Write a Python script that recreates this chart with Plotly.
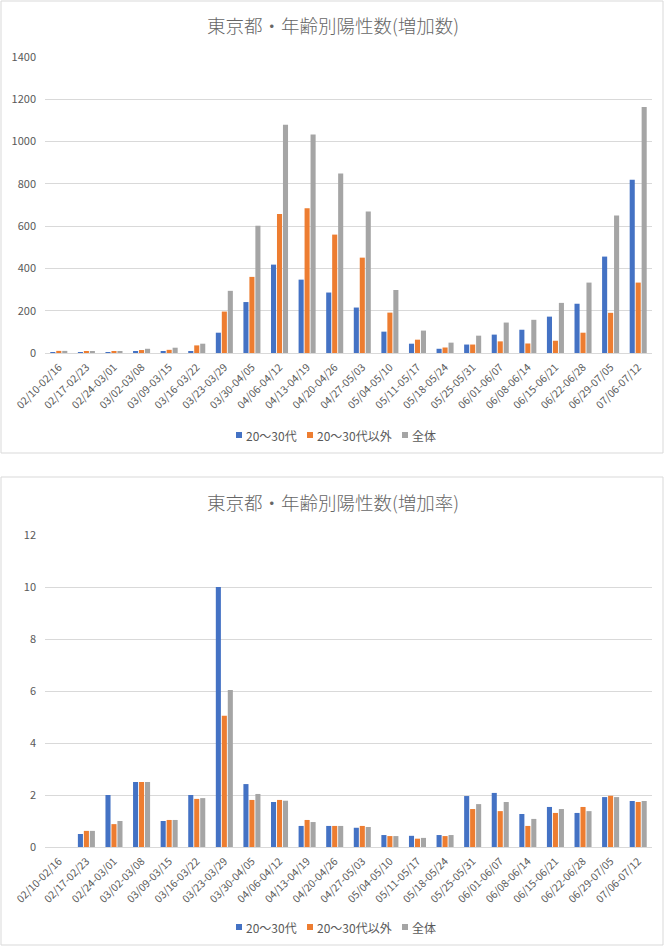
import plotly.graph_objects as go
from plotly.subplots import make_subplots

weeks = ["02/10-02/16", "02/17-02/23", "02/24-03/01", "03/02-03/08", "03/09-03/15",
         "03/16-03/22", "03/23-03/29", "03/30-04/05", "04/06-04/12", "04/13-04/19",
         "04/20-04/26", "04/27-05/03", "05/04-05/10", "05/11-05/17", "05/18-05/24",
         "05/25-05/31", "06/01-06/07", "06/08-06/14", "06/15-06/21", "06/22-06/28",
         "06/29-07/05", "07/06-07/12"]

series_names = ["20～30代", "20～30代以外", "全体"]
colors = ["#4472C4", "#ED7D31", "#A5A5A5"]

# 増加数 (weekly new positives)
count_2030 = [2, 1, 2, 5, 5, 5, 96, 241, 418, 347, 286, 215, 101, 44, 20, 40, 87, 110, 172, 233, 456, 820]
count_other = [10, 6, 5, 14, 15, 36, 196, 360, 658, 685, 560, 451, 191, 63, 26, 40, 55, 45, 58, 96, 190, 333]
count_all = [10, 6, 5, 20, 25, 44, 294, 602, 1080, 1033, 849, 669, 298, 106, 49, 82, 144, 157, 237, 333, 650, 1163]

# 増加率 (week-over-week ratio)
rate_2030 = [None, 0.5, 2.0, 2.5, 1.0, 2.0, 10.0, 2.42, 1.73, 0.81, 0.81, 0.74, 0.46, 0.43, 0.46, 1.96, 2.08, 1.27, 1.54, 1.31, 1.92, 1.77]
rate_other = [None, 0.62, 0.88, 2.5, 1.04, 1.85, 5.05, 1.81, 1.81, 1.04, 0.81, 0.81, 0.42, 0.32, 0.42, 1.46, 1.38, 0.81, 1.31, 1.54, 1.97, 1.73]
rate_all = [None, 0.62, 1.0, 2.5, 1.04, 1.88, 6.04, 2.04, 1.78, 0.96, 0.81, 0.77, 0.42, 0.35, 0.46, 1.65, 1.73, 1.08, 1.46, 1.38, 1.92, 1.77]

titles = ["東京都・年齢別陽性数(増加数)", "東京都・年齢別陽性数(増加率)"]

W, H = 665, 948
FONT = "Noto Sans CJK JP"
TXT = "#595959"
GRID = "#D9D9D9"

fig = make_subplots(rows=2, cols=1)

top_sets = [count_2030, count_other, count_all]
bot_sets = [rate_2030, rate_other, rate_all]
for name, col, vals in zip(series_names, colors, top_sets):
    fig.add_trace(go.Bar(x=weeks, y=vals, name=name, marker_color=col,
                         marker_line_width=0, showlegend=False), row=1, col=1)
for name, col, vals in zip(series_names, colors, bot_sets):
    fig.add_trace(go.Bar(x=weeks, y=vals, name=name, marker_color=col,
                         marker_line_width=0, showlegend=False), row=2, col=1)

def px_x(x):
    return x / W

def px_y(y):
    return 1 - y / H

xdom = [px_x(45), px_x(652)]
xtick = dict(family=FONT, size=10.5, color=TXT)
ytick = dict(family=FONT, size=11, color=TXT)

fig.update_layout(
    width=W, height=H,
    margin=dict(l=0, r=0, t=0, b=0, autoexpand=False),
    paper_bgcolor="white", plot_bgcolor="white",
    barmode="group", bargap=0.35, bargroupgap=0.15,
    font=dict(family=FONT, color=TXT),
    showlegend=False,
    xaxis=dict(domain=xdom, type="category", tickangle=-45, showgrid=False,
               showline=True, linecolor=GRID, linewidth=1, ticks="", anchor="y",
               automargin=False, tickfont=xtick, ticklabelstandoff=3),
    yaxis=dict(domain=[px_y(353), px_y(57)], range=[0, 1400], dtick=200,
               showgrid=True, gridcolor=GRID, gridwidth=1, zeroline=False,
               showline=False, ticks="", ticklabelstandoff=8, anchor="x",
               automargin=False, tickfont=ytick),
    xaxis2=dict(domain=xdom, type="category", tickangle=-45, showgrid=False,
                showline=True, linecolor=GRID, linewidth=1, ticks="", anchor="y2",
                automargin=False, tickfont=xtick, ticklabelstandoff=3),
    yaxis2=dict(domain=[px_y(847), px_y(535)], range=[0, 12], dtick=2,
                showgrid=True, gridcolor=GRID, gridwidth=1, zeroline=False,
                showline=False, ticks="", ticklabelstandoff=8, anchor="x2",
                automargin=False, tickfont=ytick),
)

# chart frames
fig.add_shape(type="rect", xref="paper", yref="paper",
              x0=px_x(1), x1=px_x(663), y0=px_y(453), y1=px_y(1),
              line=dict(color=GRID, width=1), fillcolor="rgba(0,0,0,0)")
fig.add_shape(type="rect", xref="paper", yref="paper",
              x0=px_x(1), x1=px_x(663), y0=px_y(945), y1=px_y(477),
              line=dict(color=GRID, width=1), fillcolor="rgba(0,0,0,0)")

# titles
for t, yc in zip(titles, [25, 502]):
    fig.add_annotation(text=t, xref="paper", yref="paper", x=px_x(333), y=px_y(yc),
                       xanchor="center", yanchor="middle", showarrow=False,
                       font=dict(family=FONT, size=18.5, color="#666666", weight=300))

# legends (compact Excel-style: small square + label)
legend_sq_x = [236, 307, 402]
for ly in [435, 927]:
    for name, col, sx in zip(series_names, colors, legend_sq_x):
        fig.add_shape(type="rect", xref="paper", yref="paper",
                      x0=px_x(sx), x1=px_x(sx + 6), y0=px_y(ly + 3), y1=px_y(ly - 3),
                      line=dict(width=0), fillcolor=col)
        fig.add_annotation(text=name, xref="paper", yref="paper", x=px_x(sx + 8), y=px_y(ly),
                           xanchor="left", yanchor="middle", showarrow=False,
                           font=dict(family=FONT, size=12, color=TXT))

fig.write_html("out.html", config={"displayModeBar": False},
               post_script="document.body.style.margin='0px';")
